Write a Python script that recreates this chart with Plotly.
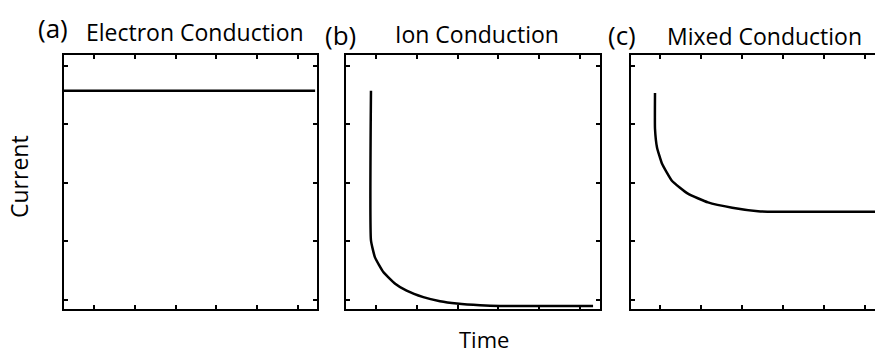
import plotly.graph_objects as go
from plotly.subplots import make_subplots

W, H = 875, 356

# Current vs. time for the three conduction regimes (arbitrary units)
electron_t = [0.265, 6.42]
electron_i = [3.57, 3.57]

ion_t = [0.877, 0.877, 0.975, 1.18, 1.47, 1.75, 2.16, 2.57, 2.98, 3.55, 4.04, 6.32]
ion_i = [3.57, 1.01, 0.72, 0.47, 0.27, 0.15, 0.04, -0.03, -0.07, -0.10, -0.11, -0.11]

mixed_t = [0.878, 0.878, 0.927, 1.05, 1.29, 1.68, 2.17, 2.76, 3.39, 3.8, 4.12, 5.0, 6.4]
mixed_i = [3.53, 2.92, 2.60, 2.32, 2.03, 1.81, 1.66, 1.57, 1.51, 1.50, 1.50, 1.50, 1.50]

x_ticks = [1, 2, 3, 4, 5, 6]
y_ticks = [0, 1, 2, 3, 4]

panel_letters = ["(a)", "(b)", "(c)"]
panel_titles = ["Electron Conduction", "Ion Conduction", "Mixed Conduction"]

FONT = "'Open Sans', 'Noto Sans', sans-serif"

fig = make_subplots(rows=1, cols=3)

series = [(electron_t, electron_i), (ion_t, ion_i), (mixed_t, mixed_i)]
for k, (t, i) in enumerate(series, start=1):
    fig.add_trace(
        go.Scatter(x=t, y=i, mode="lines",
                   line=dict(color="black", width=2.5, shape="spline", smoothing=0.4),
                   showlegend=False, hoverinfo="skip"),
        row=1, col=k,
    )

# pixel layout of each panel
x_domains = [(64, 317), (346, 600), (631, 875)]
x_ranges = [(0.265, 6.466), (0.265, 6.49), (0.293, 6.24)]
y_top, y_bot = 54.5, 308.5
y_range = (-0.154, 4.19)

for k in range(3):
    xa = "xaxis" if k == 0 else f"xaxis{k+1}"
    ya = "yaxis" if k == 0 else f"yaxis{k+1}"
    fig.layout[xa].update(
        domain=[x_domains[k][0] / W, x_domains[k][1] / W],
        range=list(x_ranges[k]), tickvals=x_ticks, showticklabels=False,
        ticks="inside", ticklen=4, tickwidth=2, tickcolor="black",
        showline=True, linecolor="black", linewidth=2, mirror="ticks",
        showgrid=False, zeroline=False, fixedrange=True,
    )
    fig.layout[ya].update(
        domain=[1 - y_bot / H, 1 - y_top / H],
        range=list(y_range), tickvals=y_ticks, showticklabels=False,
        ticks="inside", ticklen=4, tickwidth=2, tickcolor="black",
        showline=True, linecolor="black", linewidth=2,
        mirror="ticks" if k < 2 else False,
        showgrid=False, zeroline=False, fixedrange=True,
    )

annotations = []
letter_pos = [(53, 28), (340, 35), (622, 35)]
title_pos = [(195, 32), (477, 34), (764, 36)]
for k in range(3):
    annotations.append(dict(text=panel_letters[k], x=letter_pos[k][0] / W, y=1 - letter_pos[k][1] / H,
                            xref="paper", yref="paper", xanchor="center", yanchor="middle",
                            showarrow=False, font=dict(family=FONT, size=26, color="black")))
    annotations.append(dict(text=panel_titles[k], x=title_pos[k][0] / W, y=1 - title_pos[k][1] / H,
                            xref="paper", yref="paper", xanchor="center", yanchor="middle",
                            showarrow=False, font=dict(family=FONT, size=23, color="black")))
annotations.append(dict(text="Current", x=19 / W, y=1 - 177 / H, xref="paper", yref="paper",
                        xanchor="center", yanchor="middle", textangle=-90, showarrow=False,
                        font=dict(family=FONT, size=23, color="black")))
annotations.append(dict(text="Time", x=484 / W, y=1 - 339 / H, xref="paper", yref="paper",
                        xanchor="center", yanchor="middle", showarrow=False,
                        font=dict(family=FONT, size=22, color="black")))

fig.update_layout(
    width=W, height=H, margin=dict(l=0, r=0, t=0, b=0),
    paper_bgcolor="white", plot_bgcolor="white",
    annotations=annotations,
)

fig.write_html("out.html", config={"displayModeBar": False})
